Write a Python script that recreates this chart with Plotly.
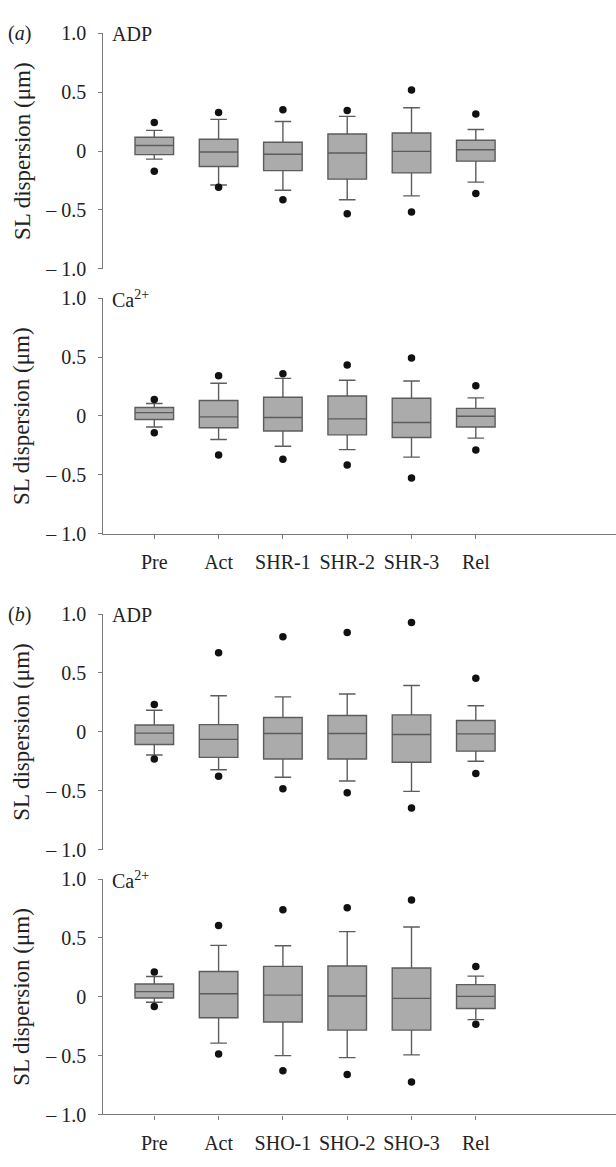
import plotly.graph_objects as go

# ---------------- data ----------------
cats_a = ["Pre", "Act", "SHR-1", "SHR-2", "SHR-3", "Rel"]
cats_b = ["Pre", "Act", "SHO-1", "SHO-2", "SHO-3", "Rel"]

# panel (a) ADP
a_adp_dot_hi = [0.242, 0.328, 0.350, 0.344, 0.519, 0.314]
a_adp_whi_hi = [0.175, 0.269, 0.250, 0.294, 0.367, 0.183]
a_adp_q3 = [0.117, 0.100, 0.075, 0.144, 0.153, 0.092]
a_adp_med = [0.047, -0.008, -0.028, -0.017, -0.003, 0.011]
a_adp_q1 = [-0.031, -0.131, -0.167, -0.239, -0.186, -0.086]
a_adp_whi_lo = [-0.069, -0.289, -0.333, -0.414, -0.381, -0.264]
a_adp_dot_lo = [-0.172, -0.308, -0.414, -0.533, -0.517, -0.361]

# panel (a) Ca2+
a_ca_dot_hi = [0.139, 0.342, 0.358, 0.433, 0.492, 0.256]
a_ca_whi_hi = [0.106, 0.278, 0.319, 0.303, 0.297, 0.153]
a_ca_q3 = [0.072, 0.131, 0.158, 0.169, 0.150, 0.064]
a_ca_med = [0.028, -0.008, -0.014, -0.025, -0.056, -0.003]
a_ca_q1 = [-0.031, -0.100, -0.128, -0.161, -0.183, -0.094]
a_ca_whi_lo = [-0.094, -0.200, -0.258, -0.286, -0.350, -0.189]
a_ca_dot_lo = [-0.142, -0.331, -0.367, -0.417, -0.528, -0.289]

# panel (b) ADP
b_adp_dot_hi = [0.233, 0.672, 0.808, 0.844, 0.928, 0.456]
b_adp_whi_hi = [0.183, 0.306, 0.297, 0.322, 0.394, 0.222]
b_adp_q3 = [0.058, 0.061, 0.122, 0.139, 0.144, 0.097]
b_adp_med = [-0.011, -0.064, -0.014, -0.014, -0.022, -0.017]
b_adp_q1 = [-0.108, -0.217, -0.231, -0.231, -0.258, -0.164]
b_adp_whi_lo = [-0.197, -0.322, -0.386, -0.417, -0.506, -0.250]
b_adp_dot_lo = [-0.231, -0.378, -0.483, -0.517, -0.647, -0.353]

# panel (b) Ca2+
b_ca_dot_hi = [0.211, 0.606, 0.739, 0.756, 0.822, 0.256]
b_ca_whi_hi = [0.172, 0.436, 0.433, 0.553, 0.592, 0.175]
b_ca_q3 = [0.108, 0.214, 0.258, 0.261, 0.244, 0.103]
b_ca_med = [0.044, 0.025, 0.014, 0.006, -0.014, 0.003]
b_ca_q1 = [-0.011, -0.178, -0.214, -0.283, -0.283, -0.100]
b_ca_whi_lo = [-0.047, -0.394, -0.500, -0.517, -0.494, -0.194]
b_ca_dot_lo = [-0.083, -0.486, -0.628, -0.661, -0.725, -0.233]

y_tickvals = [-1.0, -0.5, 0, 0.5, 1.0]
y_ticktext = ["\u2013 1.0", "\u2013 0.5", "0", "0.5", "1.0"]

panels = [
    (cats_a, a_adp_dot_hi, a_adp_whi_hi, a_adp_q3, a_adp_med, a_adp_q1, a_adp_whi_lo, a_adp_dot_lo),
    (cats_a, a_ca_dot_hi, a_ca_whi_hi, a_ca_q3, a_ca_med, a_ca_q1, a_ca_whi_lo, a_ca_dot_lo),
    (cats_b, b_adp_dot_hi, b_adp_whi_hi, b_adp_q3, b_adp_med, b_adp_q1, b_adp_whi_lo, b_adp_dot_lo),
    (cats_b, b_ca_dot_hi, b_ca_whi_hi, b_ca_q3, b_ca_med, b_ca_q1, b_ca_whi_lo, b_ca_dot_lo),
]
panel_names = ["ADP", "Ca<sup>2+</sup>", "ADP", "Ca<sup>2+</sup>"]

# ---------------- layout constants ----------------
W, H = 616, 1167
FONT = "Liberation Serif, Times New Roman, serif"
top_px = [22.7, 292.7, 614.7, 884.7]
bot_px = [262.7, 532.7, 854.7, 1124.7]
axis_x_px = 103.3
AXCOL = "#7a7a7a"


def py(px):
    return 1 - px / H


def pxx(px):
    return px / W


fig = go.Figure()
layout = dict(
    width=W, height=H, autosize=False,
    margin=dict(l=0, r=0, t=0, b=0),
    paper_bgcolor="white", plot_bgcolor="white",
    showlegend=False,
    font=dict(family=FONT, size=20, color="#222222"),
)
annotations = []

for i, (cats, dhi, whi, q3, med, q1, wlo, dlo) in enumerate(panels):
    n = i + 1
    xa = "x" if n == 1 else f"x{n}"
    ya = "y" if n == 1 else f"y{n}"
    fig.add_trace(go.Box(
        x=cats, q1=q1, median=med, q3=q3, lowerfence=wlo, upperfence=whi,
        boxpoints=False, width=0.6, whiskerwidth=0.43,
        fillcolor="#ababab", line=dict(color="#5c5c5c", width=1.4),
        xaxis=xa, yaxis=ya, hoverinfo="skip",
    ))
    fig.add_trace(go.Scatter(
        x=list(cats) + list(cats), y=list(dhi) + list(dlo), mode="markers",
        marker=dict(color="#111111", size=7.5, symbol="circle"),
        xaxis=xa, yaxis=ya, hoverinfo="skip",
    ))
    show_x = n in (2, 4)
    layout[f"xaxis{'' if n == 1 else n}"] = dict(
        domain=[pxx(axis_x_px), 1], anchor=ya,
        type="category", categoryorder="array", categoryarray=cats,
        range=[-0.793, 7.18],
        showline=show_x, linecolor=AXCOL, linewidth=1.2,
        ticks="outside" if show_x else "", ticklen=4, tickcolor=AXCOL, tickwidth=1.2,
        showticklabels=show_x, tickfont=dict(family=FONT, size=20, color="#222222"),
        ticklabelstandoff=6,
        showgrid=False, zeroline=False, fixedrange=True,
    )
    layout[f"yaxis{'' if n == 1 else n}"] = dict(
        domain=[py(bot_px[i]), py(top_px[i])], anchor=xa,
        range=[-1.0, 1.0],
        tickvals=y_tickvals, ticktext=y_ticktext,
        showline=True, linecolor=AXCOL, linewidth=1.2,
        ticks="outside", ticklen=4, tickcolor=AXCOL, tickwidth=1.2,
        tickfont=dict(family=FONT, size=20, color="#222222"),
        ticklabelstandoff=8,
        showgrid=False, zeroline=False, fixedrange=True,
    )
    # y-axis title
    annotations.append(dict(
        text="SL dispersion (\u03bcm)", textangle=-90,
        x=pxx(22), y=py((top_px[i] + bot_px[i]) / 2), xref="paper", yref="paper",
        xanchor="center", yanchor="middle", showarrow=False,
        font=dict(family=FONT, size=23, color="#222222"),
    ))
    # panel name (ADP / Ca2+)
    annotations.append(dict(
        text=panel_names[i], x=pxx(110), y=py(top_px[i] + 1), xref="paper", yref="paper",
        xanchor="left", yanchor="middle", showarrow=False,
        font=dict(family=FONT, size=20, color="#222222"),
    ))

for lbl, tp in (("(<i>a</i>)", top_px[0]), ("(<i>b</i>)", top_px[2])):
    annotations.append(dict(
        text=lbl, x=pxx(6), y=py(tp), xref="paper", yref="paper",
        xanchor="left", yanchor="middle", showarrow=False,
        font=dict(family=FONT, size=20, color="#222222"),
    ))

layout["annotations"] = annotations
fig.update_layout(**layout)
fig.write_html("out.html")
